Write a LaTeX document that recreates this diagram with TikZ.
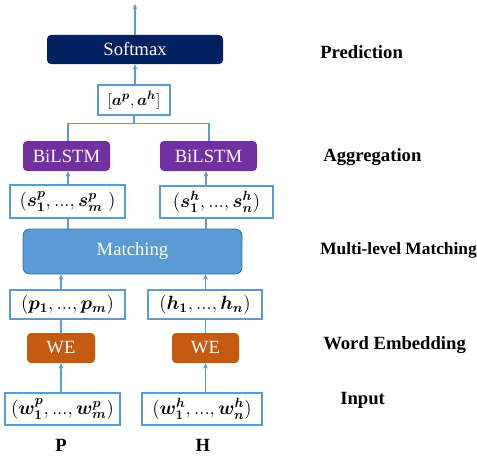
\documentclass[tikz,border=0pt]{standalone}
\usepackage{amsmath}
\usepackage{bm}
\usepackage{fontspec}
\setmainfont{Liberation Serif}
\usepackage{tikz}
\usetikzlibrary{calc,positioning,arrows.meta}

\definecolor{lineblue}{HTML}{5B9BD5}
\definecolor{softmaxnavy}{HTML}{002060}
\definecolor{lstmpurple}{HTML}{7030A0}
\definecolor{matchblue}{HTML}{5B9BD5}
\definecolor{weorange}{HTML}{C55A11}
\newcommand{\sdots}{{.}{.}{.}}

\begin{document}
\begin{tikzpicture}[x=0.75pt,y=-0.75pt]
        \tikzset{>={Stealth[length=4pt,width=3.5pt]}}
        \tikzstyle{arr} = [line width=0.8pt, draw=lineblue],
        \tikzstyle{vec} = [shape=rectangle, draw=lineblue, line width=0.9pt, fill=white, align=center, inner sep=0pt, font=\fontsize{14.5}{16}\selectfont],
        \tikzstyle{layer} = [shape=rectangle, rounded corners=3pt, text=white, align=center, inner sep=0pt, font=\fontsize{14}{16}\selectfont],
        \tikzstyle{tag} = [anchor=west, inner sep=0pt, font=\fontsize{14}{16}\selectfont\bfseries],
        \useasboundingbox (0,0) rectangle (477,460);

        % prediction
        \node [layer, name=softmax, fill=softmaxnavy, minimum width=132pt, minimum height=21.75pt] at (135,49.5) {Softmax};
        \node [vec, name=attn, font=\fontsize{13}{15}\selectfont, minimum width=54pt, minimum height=22.5pt] at (134,100) {$[\bm{a}^{\bm{p}}, \bm{a}^{\bm{h}}]$};
        \coordinate (out) at (135,4);

        % aggregation
        \node [layer, name=bilstmP, fill=lstmpurple, minimum width=65.25pt, minimum height=22.5pt] at (66.5,156) {BiLSTM};
        \node [layer, name=bilstmH, fill=lstmpurple, minimum width=72.75pt, minimum height=22.5pt] at (208.5,156) {BiLSTM};
        \node [vec, name=sP, minimum width=86.25pt, minimum height=24.75pt] at (67.5,201.5) {$(\bm{s}_{\bm{1}}^{\bm{p}}, \sdots, \bm{s}_{\bm{m}}^{\bm{p}}\;)$};
        \node [vec, name=sH, minimum width=84.75pt, minimum height=24pt] at (216.5,202) {$(\bm{s}_{\bm{1}}^{\bm{h}}, \sdots, \bm{s}_{\bm{n}}^{\bm{h}})$};

        % matching
        \node [layer, name=matching, fill=matchblue, draw=lineblue!70!black, line width=0.6pt, rounded corners=5pt, minimum width=164.25pt, minimum height=33.75pt] at (132.5,251.5) {Matching};

        % word embedding
        \node [vec, name=pP, minimum width=86.25pt, minimum height=21.75pt] at (67.5,304.5) {$(\bm{p}_{\bm{1}}, \sdots, \bm{p}_{\bm{m}})$};
        \node [vec, name=pH, minimum width=85.5pt, minimum height=21.75pt] at (205,304.5) {$(\bm{h}_{\bm{1}}, \sdots, \bm{h}_{\bm{n}})$};
        \node [layer, name=weP, fill=weorange, minimum width=51pt, minimum height=22.5pt] at (61,348) {WE};
        \node [layer, name=weH, fill=weorange, minimum width=50.25pt, minimum height=22.5pt] at (205.5,348) {WE};

        % input
        \node [vec, name=wP, minimum width=86.25pt, minimum height=24pt] at (62.5,409) {$(\bm{w}_{\bm{1}}^{\bm{p}}, \sdots, \bm{w}_{\bm{m}}^{\bm{p}})$};
        \node [vec, name=wH, minimum width=90pt, minimum height=24pt] at (202,409) {$(\bm{w}_{\bm{1}}^{\bm{h}}, \sdots, \bm{w}_{\bm{n}}^{\bm{h}})$};
        \node [font=\fontsize{14}{16}\selectfont\bfseries, name=prem] at (61,445) {P};
        \node [font=\fontsize{14}{16}\selectfont\bfseries, name=hyp] at (203,445) {H};

        % layer names
        \node [tag, name=tagPred] at (320,52) {Prediction};
        \node [tag, name=tagAgg] at (323,157) {Aggregation};
        \node [tag, name=tagMatch, font=\fontsize{13}{15}\selectfont\bfseries] at (320,250) {Multi-level Matching};
        \node [tag, name=tagWE] at (323,345) {Word Embedding};
        \node [tag, name=tagIn] at (340,400) {Input};

        % arrows
        \draw [arr,->] (wP.north -| weP.south) -- (weP.south);
        \draw [arr,->] (wH.north -| weH.south) -- (weH.south);
        \draw [arr] (weP.north) -- (pP.south -| weP.north);
        \draw [arr] (weH.north) -- (pH.south -| weH.north);
        \draw [arr,->] (pP.north -| weP.north) -- (matching.south -| weP.north);
        \draw [arr,->] (pH.north -| weH.north) -- (matching.south -| weH.north);

        \draw [arr] (matching.north -| 68,0) -- (sP.south -| 68,0);
        \draw [arr] (matching.north -| 206,0) -- (sH.south -| 206,0);
        \draw [arr,->] (sP.north -| 68,0) -- (bilstmP.south -| 68,0);
        \draw [arr,->] (sH.north -| 206,0) -- (bilstmH.south -| 206,0);

        \coordinate (split) at ($(attn.south) + (0,8)$);
        \draw [arr] (bilstmP.north -| 68,0) |- (split) -| (bilstmH.north -| 209,0);
        \draw [arr] (split) -- (attn.south);
        \draw [arr,->] (attn.north -| softmax.south) -- (softmax.south);
        \draw [arr,->] (softmax.north) -- (out);

\end{tikzpicture}
\end{document}
